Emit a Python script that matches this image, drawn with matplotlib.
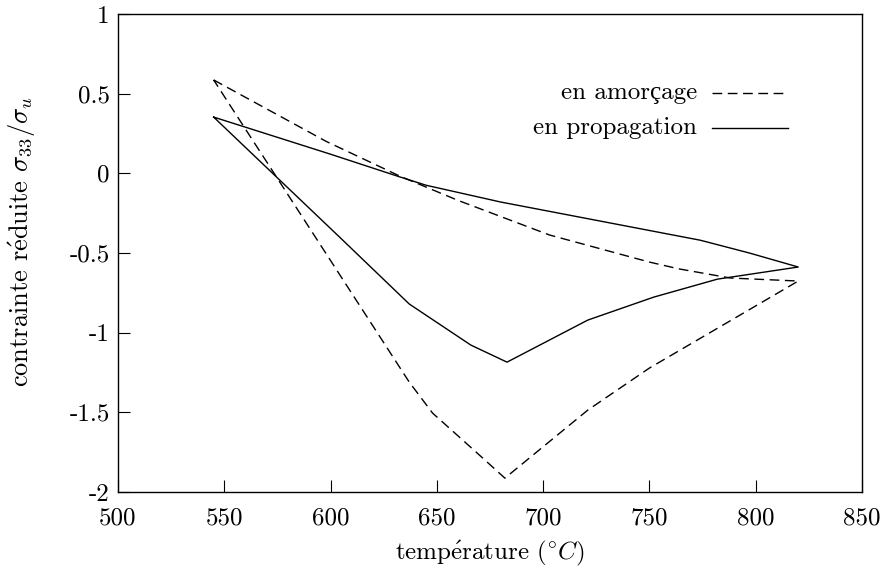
import matplotlib
matplotlib.use("Agg")
import matplotlib.pyplot as plt

plt.rcParams['font.family'] = ['cmr10', 'Liberation Serif']
plt.rcParams['mathtext.fontset'] = 'cm'
plt.rcParams['axes.unicode_minus'] = False

# en amorçage (dashed): upper branch then lower branch back to start
amorcage_T = [545, 598, 633, 660, 703, 750, 764, 788, 820,
              750, 721, 682, 669, 648, 637, 545]
amorcage_s = [0.586, 0.20, -0.02, -0.17, -0.387, -0.557, -0.60, -0.657, -0.676,
              -1.222, -1.486, -1.913, -1.756, -1.505, -1.31, 0.586]

# en propagation (solid)
propag_T = [545, 600, 632, 645, 680, 774, 797, 820,
            782, 752, 721, 683, 666, 637, 605, 545]
propag_s = [0.353, 0.12, -0.02, -0.075, -0.18, -0.42, -0.50, -0.588,
            -0.664, -0.777, -0.921, -1.185, -1.078, -0.82, -0.41, 0.353]

xticks = [500, 550, 600, 650, 700, 750, 800, 850]
yticks = [-2, -1.5, -1, -0.5, 0, 0.5, 1]
ytick_labels = ["-2", "-1.5", "-1", "-0.5", "0", "0.5", "1"]

fs = 18

fig = plt.figure(figsize=(8.85, 5.75), dpi=100)
ax = fig.add_axes([118/885, 1-492/575, (862-118)/885, (492-14)/575])

ax.plot(amorcage_T, amorcage_s, color='black', lw=1.0, ls=(0, (7, 4)))
ax.plot(propag_T, propag_s, color='black', lw=1.0)

ax.set_xlim(500, 850)
ax.set_ylim(-2, 1)
ax.set_xticks(xticks)
ax.set_xticklabels([str(t) for t in xticks])
ax.set_yticks(yticks)
ax.set_yticklabels(ytick_labels)
ax.tick_params(direction='in', length=8.5, width=0.8, labelsize=fs)
ax.tick_params(axis='x', pad=11)
ax.tick_params(axis='y', pad=6)
for s in ax.spines.values():
    s.set_linewidth(1.0)

ax.set_xlabel(r"temp$\mathrm{\acute{e}}$rature ($^{\circ}C$)", fontsize=fs, labelpad=7)
ax.set_ylabel(r"contrainte r$\mathrm{\acute{e}}$duite $\sigma_{33}/\sigma_u$", fontsize=19)
ax.yaxis.set_label_coords(-0.107, 0.525)

# gnuplot-style key, text right aligned, sample on the right
key_x_text = 500 + (697 - 118) / 744 * 350
key_x0 = 500 + (712 - 118) / 744 * 350
key_x1 = 500 + (788 - 118) / 744 * 350
key_rows = [("en amorçage", (0, (7, 4))), ("en propagation", '-')]
for i, (lab, style) in enumerate(key_rows):
    yy = 1 - (93 + 35 * i - 14) / 478 * 3
    ax.text(key_x_text, yy, lab, ha='right', va='center', fontsize=fs)
    ax.plot([key_x0, key_x1], [yy, yy], color='black', lw=1.0, ls=style)

fig.savefig("out.png", dpi=100)
